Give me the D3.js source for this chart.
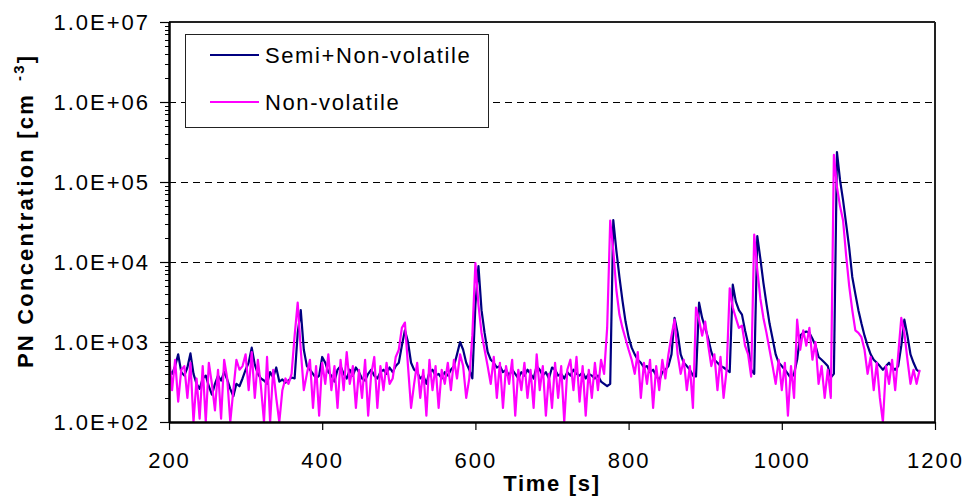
<!DOCTYPE html>
<html><head><meta charset="utf-8">
<script src="https://cdn.jsdelivr.net/npm/d3@7"></script>
<style>html,body{margin:0;padding:0;background:#fff;}svg{display:block;font-family:"Liberation Sans",Arial,sans-serif;}</style>
</head><body><svg id="c" width="963" height="497"></svg>
<script>
const time = [
 200,204,208,212,216,220,224,228,232,236,
 240,244,248,252,256,260,264,268,272,276,
 280,284,288,292,296,300,304,308,312,316,
 320,324,328,332,336,340,344,348,352,356,
 360,364,368,372,376,380,384,388,392,396,
 400,404,408,412,416,420,424,428,432,436,
 440,444,448,452,456,460,464,468,472,476,
 480,484,488,492,496,500,504,508,512,516,
 520,524,528,532,536,540,544,548,552,556,
 560,564,568,572,576,580,584,588,592,596,
 600,604,608,612,616,620,624,628,632,636,
 640,644,648,652,656,660,664,668,672,676,
 680,684,688,692,696,700,704,708,712,716,
 720,724,728,732,736,740,744,748,752,756,
 760,764,768,772,776,780,784,788,792,796,
 800,804,808,812,816,820,824,828,832,836,
 840,844,848,852,856,860,864,868,872,876,
 880,884,888,892,896,900,904,908,912,916,
 920,924,928,932,936,940,944,948,952,956,
 960,964,968,972,976,980,984,988,992,996,
 1000,1004,1008,1012,1016,1020,1024,1028,1032,1036,
 1040,1044,1048,1052,1056,1060,1064,1068,1072,1076,
 1080,1084,1088,1092,1096,1100,1104,1108,1112,1116,
 1120,1124,1128,1132,1136,1140,1144,1148,1152,1156,
 1160,1164,1168,1172,1176,1180];
const semiNonVolatile = [
 450,400,500,700,420,380,480,720,400,300,
 260,350,380,280,220,300,380,330,420,340,
 260,210,300,280,350,450,550,850,520,400,
 350,330,300,420,360,480,320,340,310,330,
 360,350,1300,2500,800,500,450,400,350,380,
 650,550,420,380,320,450,500,400,350,450,
 380,480,420,350,330,400,450,380,350,420,
 450,400,480,420,500,550,900,1400,1000,550,
 450,420,350,380,300,420,450,380,400,350,
 420,380,450,500,700,1000,800,550,450,350,
 2900,8900,2500,1300,750,600,550,480,500,420,
 450,380,450,400,350,420,380,450,400,350,
 500,450,380,420,350,480,450,380,400,350,
 420,380,450,400,380,420,350,400,380,350,
 380,320,300,280,300,33500,14000,6500,3300,1800,
 1150,850,700,600,550,480,500,420,450,380,
 330,420,450,500,700,2000,1300,700,550,500,
 450,380,370,3100,2000,1500,1100,750,600,550,
 500,480,450,420,5200,3200,2500,2200,1400,950,
 450,400,21000,11000,5500,3000,1700,1100,700,550,
 500,450,400,350,400,600,1200,1300,1350,1300,
 1100,900,650,600,550,500,360,400,237000,106000,
 59000,30000,15000,6500,4000,2500,1700,1200,900,700,
 600,550,500,450,500,550,480,450,500,900,
 1900,1200,700,550,450,420];
const nonVolatile = [
 700,250,600,180,450,500,200,550,100,350,
 110,500,100,550,300,140,450,110,600,350,
 100,250,600,450,500,700,250,750,200,600,
 280,100,650,100,450,200,100,250,350,300,
 400,1200,3100,800,250,400,600,150,500,120,
 550,300,700,250,500,150,600,250,750,300,
 500,150,450,200,600,120,400,650,150,500,
 250,550,300,350,650,800,1500,1750,500,150,
 300,550,200,450,120,600,250,500,150,450,
 300,550,250,600,350,700,500,200,350,1200,
 9700,2900,1300,800,500,300,650,200,550,150,
 500,300,600,120,450,250,550,200,450,150,
 700,250,500,120,400,150,550,200,500,100,
 450,600,250,650,180,500,120,450,200,550,
 250,600,400,1500,33000,14000,4500,2200,1500,1100,
 800,600,400,750,200,550,300,600,150,500,
 250,600,350,700,1200,1900,700,400,600,250,
 500,150,2700,1900,1200,1800,900,500,700,250,
 650,200,450,4700,2700,2000,1500,1600,900,700,
 370,22000,8000,3500,2000,1300,800,500,300,600,
 250,550,120,500,200,1900,800,1400,900,1500,
 600,1000,300,500,200,450,200,218000,87000,50000,
 33000,12000,5000,2500,1400,1300,1150,800,400,650,
 250,550,200,100,500,300,600,250,700,2000,
 1300,600,300,450,300,450];
const seriesNames = ["Semi+Non-volatile","Non-volatile"];
const seriesColors = ["#000080","#FF00FF"];
const xTicks = [200,400,600,800,1000,1200];
const yTicks = [1e2,1e3,1e4,1e5,1e6,1e7];
const yTickLabels = ["1.0E+02","1.0E+03","1.0E+04","1.0E+05","1.0E+06","1.0E+07"];
const gridValues = [1e3,1e4,1e5,1e6];

const svg = d3.select("#c");
const L=169,R=935,T=22,B=422;
const x = d3.scaleLinear().domain([200,1200]).range([L,R]);
const y = d3.scaleLog().domain([100,1e7]).range([B,T]);

// grid
svg.append("g").selectAll("line").data(gridValues).join("line")
  .attr("x1",L).attr("x2",R).attr("y1",d=>Math.round(y(d))+0.5).attr("y2",d=>Math.round(y(d))+0.5)
  .attr("stroke","#000").attr("stroke-width",1).attr("stroke-dasharray","7,5");

// minor y ticks
const minors=[];
for(let e=2;e<7;e++){for(let m=2;m<=9;m++){minors.push(m*Math.pow(10,e));}}
svg.append("g").selectAll("line").data(minors).join("line")
  .attr("x1",L-4).attr("x2",L).attr("y1",d=>Math.round(y(d))+0.5).attr("y2",d=>Math.round(y(d))+0.5)
  .attr("stroke","#000").attr("stroke-width",1);

// series
svg.append("clipPath").attr("id","pc").append("rect")
  .attr("x",L).attr("y",T).attr("width",R-L).attr("height",B-T+1);
const line = d3.line().x((d,i)=>x(time[i])).y(d=>y(Math.max(d,100)));
const seriesData=[semiNonVolatile,nonVolatile];
svg.append("g").attr("clip-path","url(#pc)").selectAll("path").data(seriesData).join("path")
  .attr("d",d=>line(d)).attr("fill","none")
  .attr("stroke",(d,i)=>seriesColors[i]).attr("stroke-width",2.2).attr("stroke-linejoin","round");

// frame
svg.append("line").attr("x1",L).attr("x2",R).attr("y1",T).attr("y2",T).attr("stroke","#222").attr("stroke-width",2);
svg.append("line").attr("x1",R).attr("x2",R).attr("y1",T).attr("y2",B).attr("stroke","#222").attr("stroke-width",2);

// axes
const yAxis = d3.axisLeft(y).tickValues(yTicks).tickFormat((d,i)=>yTickLabels[i]).tickSize(9).tickPadding(10);
const gy = svg.append("g").attr("transform",`translate(${L},0)`).call(yAxis);
const xAxis = d3.axisBottom(x).tickValues(xTicks).tickFormat(d3.format("d")).tickSize(8).tickPadding(22);
const gx = svg.append("g").attr("transform",`translate(0,${B})`).call(xAxis);
[gx,gy].forEach(g=>{
  g.select(".domain").attr("stroke","#000").attr("stroke-width",2.5);
  g.selectAll(".tick line").attr("stroke","#000").attr("stroke-width",1.2);
  g.selectAll(".tick text").attr("fill","#000").style("font-size","22px")
   .style("font-family","'Liberation Sans',Arial,sans-serif").style("letter-spacing","2px");
});
gx.select(".domain").attr("d",`M${L},0.5H${R}`);
gy.select(".domain").attr("d",`M0.5,${B}V${T}`);

// axis titles
svg.append("text").attr("x",(L+R)/2).attr("y",491).attr("text-anchor","middle")
  .style("font-size","22px").style("font-weight","bold").style("letter-spacing","1.7px")
  .text("Time [s]");
const yt = svg.append("text").attr("transform","translate(33,368) rotate(-90)")
  .style("font-size","22px").style("font-weight","bold").style("letter-spacing","2.2px");
yt.append("tspan").text("PN Concentration [cm");
yt.append("tspan").attr("dx",12).attr("dy",-9).style("font-size","15px").text("-3");
yt.append("tspan").attr("dy",9).text("]");

// legend
const lg = svg.append("g");
lg.append("rect").attr("x",185.5).attr("y",34.5).attr("width",303).attr("height",93)
  .attr("fill","#fff").attr("stroke","#222").attr("stroke-width",1);
const ly=[55,102];
seriesNames.forEach((n,i)=>{
  lg.append("line").attr("x1",210).attr("x2",259).attr("y1",ly[i]).attr("y2",ly[i])
    .attr("stroke",seriesColors[i]).attr("stroke-width",2);
  lg.append("text").attr("x",265).attr("y",ly[i]+8).style("font-size","22px")
    .style("letter-spacing","1.6px").text(n);
});
</script></body></html>
